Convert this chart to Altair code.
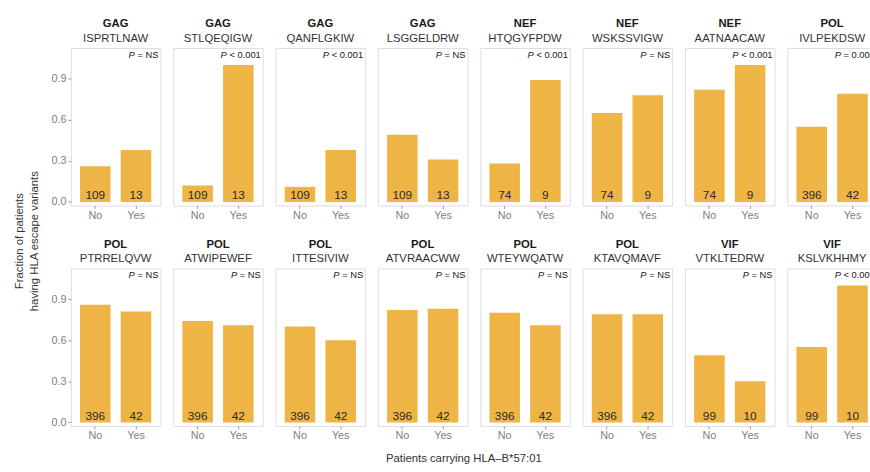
import altair as alt
import pandas as pd

# Escape-variant fractions per epitope, split by HLA-B*57:01 carrier status
genes = ["GAG", "GAG", "GAG", "GAG", "NEF", "NEF", "NEF", "POL",
         "POL", "POL", "POL", "POL", "POL", "POL", "VIF", "VIF"]
epitopes = ["ISPRTLNAW", "STLQEQIGW", "QANFLGKIW", "LSGGELDRW",
            "HTQGYFPDW", "WSKSSVIGW", "AATNAACAW", "IVLPEKDSW",
            "PTRRELQVW", "ATWIPEWEF", "ITTESIVIW", "ATVRAACWW",
            "WTEYWQATW", "KTAVQMAVF", "VTKLTEDRW", "KSLVKHHMY"]
frac_no = [0.26, 0.12, 0.11, 0.49, 0.28, 0.65, 0.82, 0.55,
           0.86, 0.74, 0.70, 0.82, 0.80, 0.79, 0.49, 0.55]
frac_yes = [0.38, 1.00, 0.38, 0.31, 0.89, 0.78, 1.00, 0.79,
            0.81, 0.71, 0.60, 0.83, 0.71, 0.79, 0.30, 1.00]
n_no = [109, 109, 109, 109, 74, 74, 74, 396,
        396, 396, 396, 396, 396, 396, 99, 99]
n_yes = [13, 13, 13, 13, 9, 9, 9, 42,
         42, 42, 42, 42, 42, 42, 10, 10]
p_text = ["= NS", "< 0.001", "< 0.001", "= NS", "< 0.001", "= NS", "< 0.001", "= 0.009",
          "= NS", "= NS", "= NS", "= NS", "= NS", "= NS", "= NS", "< 0.001"]
groups = ["No", "Yes"]
y_ticks = [0.0, 0.3, 0.6, 0.9]

FONT = "Liberation Sans"
BAR = "#EEB445"
GREY = "#808080"
PANEL_W = 91
PANEL_H = 160
P_SIZE = 9.5

# Arial-compatible advance widths (per 1000 em) for the p-value strings
ADV = {" ": 278, "=": 584, "<": 584, "N": 722, "S": 667,
       "0": 556, "1": 556, "9": 556, ".": 278}


def text_width(s, size):
    return sum(ADV.get(c, 556) for c in s) * size / 1000.0


x_scale = alt.Scale(domain=groups, paddingInner=0.25, paddingOuter=0.225)
y_scale = alt.Scale(domain=[-0.026, 1.124], nice=False, zero=False)


def panel(i, with_y):
    df = pd.DataFrame({
        "carrier": groups,
        "frac": [frac_no[i], frac_yes[i]],
        "n": [n_no[i], n_yes[i]],
    })
    y_axis = alt.Axis(values=y_ticks, format=".1f", title=None, grid=False,
                      domain=False, ticks=True, tickSize=3, tickColor="#999999",
                      labelColor=GREY, labelFontSize=11, labelFont=FONT,
                      labelPadding=2) if with_y else None
    x_axis = alt.Axis(title=None, labelAngle=0, domain=False, ticks=True,
                      tickSize=3, tickColor="#999999", labelColor=GREY,
                      labelFontSize=11, labelFont=FONT, labelPadding=1)
    base = alt.Chart(df)
    bars = base.mark_bar(color=BAR).encode(
        x=alt.X("carrier:N", scale=x_scale, axis=x_axis),
        y=alt.Y("frac:Q", scale=y_scale, axis=y_axis),
        y2=alt.datum(0),
    )
    counts = base.mark_text(font=FONT, fontSize=12, color="#2b2b2b",
                            baseline="alphabetic", dy=-6.5).encode(
        x=alt.X("carrier:N", scale=x_scale, axis=x_axis),
        y=alt.value(PANEL_H),
        text="n:Q",
    )
    rest = " " + p_text[i]
    ptxt = pd.DataFrame({"p": ["P"], "rest": [rest]})
    p_italic = alt.Chart(ptxt).mark_text(
        font=FONT, fontSize=P_SIZE, fontStyle="italic", color="#1a1a1a",
        align="right", baseline="middle", dx=-text_width(rest, P_SIZE)).encode(
        x=alt.value(PANEL_W - 2), y=alt.value(7), text="p:N")
    p_rest = alt.Chart(ptxt).mark_text(
        font=FONT, fontSize=P_SIZE, color="#1a1a1a",
        align="right", baseline="middle").encode(
        x=alt.value(PANEL_W - 2), y=alt.value(7), text="rest:N")
    return alt.layer(bars, counts, p_italic, p_rest).properties(
        width=PANEL_W, height=PANEL_H,
        title=alt.TitleParams(text=genes[i], subtitle=epitopes[i],
                              font=FONT, fontSize=11.5, fontWeight="bold",
                              color="#1a1a1a", subtitleFont=FONT,
                              subtitleFontSize=11.5, subtitleColor="#333333",
                              subtitlePadding=3, anchor="middle", offset=4),
    )


row1 = alt.hconcat(*[panel(i, i == 0) for i in range(8)], spacing=11)
row2 = alt.hconcat(*[panel(i, i == 8) for i in range(8, 16)], spacing=11)

grid = alt.vconcat(row1, row2, spacing=17).properties(
    title=alt.TitleParams(text="Patients carrying HLA\u2013B*57:01", orient="bottom",
                          anchor="middle", font=FONT, fontSize=11.5,
                          fontWeight="normal", color="#333333", offset=12)
)

# the right-most column runs past the right edge of the figure
chart = alt.hconcat(grid).properties(
    title=alt.TitleParams(text=["Fraction of patients", "having HLA escape variants"],
                          orient="left", anchor="middle", font=FONT,
                          fontSize=11.5, fontWeight="normal", color="#333333",
                          lineHeight=15, offset=10),
    padding={"left": 14, "top": 14, "right": -8, "bottom": 5},
).configure_view(stroke="#9a9a9a", strokeWidth=1).configure(background="white")

chart.save("out.html", embed_options={"renderer": "svg", "actions": False})
